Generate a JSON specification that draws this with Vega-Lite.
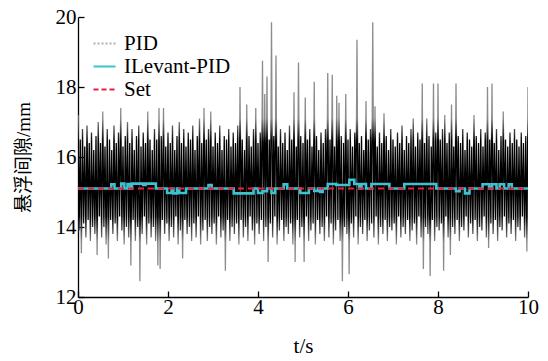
{
"$schema":"https://vega.github.io/schema/vega-lite/v6.json",
"width":450,"height":280,
"autosize":{"type":"none"},
"padding":{"left":78,"top":17,"right":20,"bottom":64},
"background":"white",
"config":{"view":{"stroke":null},"font":"Liberation Serif"},
"datasets":{
"pid":[
{"t":0,"y":17.2},{"t":0.025,"y":13.9},{"t":0.05,"y":16.5},{"t":0.075,"y":13.25},{"t":0.1,"y":16.8},{"t":0.125,"y":14.1},{"t":0.15,"y":16.3},{"t":0.175,"y":13.7},{"t":0.2,"y":16.9},{"t":0.225,"y":14.2},
{"t":0.25,"y":16.4},{"t":0.275,"y":13.6},{"t":0.3,"y":16.7},{"t":0.325,"y":14.0},{"t":0.35,"y":16.2},{"t":0.375,"y":13.8},{"t":0.4,"y":16.6},{"t":0.425,"y":13.2},{"t":0.45,"y":17.0},{"t":0.475,"y":14.3},
{"t":0.5,"y":16.4},{"t":0.525,"y":13.7},{"t":0.55,"y":17.3},{"t":0.575,"y":14.0},{"t":0.6,"y":16.3},{"t":0.625,"y":13.5},{"t":0.65,"y":16.8},{"t":0.675,"y":13.1},{"t":0.7,"y":16.5},{"t":0.725,"y":14.2},
{"t":0.75,"y":16.2},{"t":0.775,"y":13.8},{"t":0.8,"y":16.9},{"t":0.825,"y":14.1},{"t":0.85,"y":16.4},{"t":0.875,"y":13.6},{"t":0.9,"y":16.7},{"t":0.925,"y":14.3},{"t":0.95,"y":17.4},{"t":0.975,"y":13.9},
{"t":1.0,"y":16.3},{"t":1.025,"y":13.5},{"t":1.05,"y":16.6},{"t":1.075,"y":14.0},{"t":1.1,"y":17.0},{"t":1.125,"y":13.7},{"t":1.15,"y":16.4},{"t":1.175,"y":12.9},{"t":1.2,"y":16.8},{"t":1.225,"y":14.2},
{"t":1.25,"y":16.2},{"t":1.275,"y":13.6},{"t":1.3,"y":16.6},{"t":1.325,"y":14.0},{"t":1.35,"y":16.9},{"t":1.375,"y":12.45},{"t":1.4,"y":16.3},{"t":1.425,"y":13.8},{"t":1.45,"y":16.7},{"t":1.475,"y":14.3},
{"t":1.5,"y":16.4},{"t":1.525,"y":13.5},{"t":1.55,"y":17.3},{"t":1.575,"y":14.1},{"t":1.6,"y":16.5},{"t":1.625,"y":13.7},{"t":1.65,"y":16.2},{"t":1.675,"y":14.0},{"t":1.7,"y":16.8},{"t":1.725,"y":13.6},
{"t":1.75,"y":16.5},{"t":1.775,"y":12.9},{"t":1.8,"y":17.4},{"t":1.825,"y":12.8},{"t":1.85,"y":16.6},{"t":1.875,"y":14.2},{"t":1.9,"y":17.4},{"t":1.925,"y":13.8},{"t":1.95,"y":16.3},{"t":1.975,"y":14.1},
{"t":2.0,"y":16.7},{"t":2.025,"y":13.6},{"t":2.05,"y":16.4},{"t":2.075,"y":14.0},{"t":2.1,"y":16.9},{"t":2.125,"y":13.7},{"t":2.15,"y":16.2},{"t":2.175,"y":14.3},{"t":2.2,"y":16.6},{"t":2.225,"y":13.5},
{"t":2.25,"y":17.0},{"t":2.275,"y":13.9},{"t":2.3,"y":16.4},{"t":2.325,"y":13.1},{"t":2.35,"y":16.8},{"t":2.375,"y":14.2},{"t":2.4,"y":16.3},{"t":2.425,"y":13.8},{"t":2.45,"y":16.7},{"t":2.475,"y":14.0},
{"t":2.5,"y":16.5},{"t":2.525,"y":13.6},{"t":2.55,"y":16.9},{"t":2.575,"y":14.1},{"t":2.6,"y":16.2},{"t":2.625,"y":13.7},{"t":2.65,"y":16.6},{"t":2.675,"y":14.3},{"t":2.7,"y":17.1},{"t":2.725,"y":13.5},
{"t":2.75,"y":16.4},{"t":2.775,"y":13.9},{"t":2.8,"y":17.4},{"t":2.825,"y":14.2},{"t":2.85,"y":16.5},{"t":2.875,"y":13.6},{"t":2.9,"y":16.8},{"t":2.925,"y":14.0},{"t":2.95,"y":17.3},{"t":2.975,"y":13.8},
{"t":3.0,"y":16.3},{"t":3.025,"y":14.1},{"t":3.05,"y":16.7},{"t":3.075,"y":13.5},{"t":3.1,"y":16.4},{"t":3.125,"y":14.3},{"t":3.15,"y":16.9},{"t":3.175,"y":13.7},{"t":3.2,"y":16.2},{"t":3.225,"y":13.9},
{"t":3.25,"y":16.6},{"t":3.275,"y":12.75},{"t":3.3,"y":16.5},{"t":3.325,"y":14.2},{"t":3.35,"y":16.8},{"t":3.375,"y":13.6},{"t":3.4,"y":16.3},{"t":3.425,"y":14.0},{"t":3.45,"y":16.7},{"t":3.475,"y":13.8},
{"t":3.5,"y":16.4},{"t":3.525,"y":14.1},{"t":3.55,"y":16.9},{"t":3.575,"y":13.5},{"t":3.6,"y":18.0},{"t":3.625,"y":14.2},{"t":3.65,"y":16.5},{"t":3.675,"y":13.7},{"t":3.7,"y":16.2},{"t":3.725,"y":14.0},
{"t":3.75,"y":17.5},{"t":3.775,"y":13.6},{"t":3.8,"y":16.6},{"t":3.825,"y":14.3},{"t":3.85,"y":16.3},{"t":3.875,"y":13.9},{"t":3.9,"y":16.8},{"t":3.925,"y":13.5},{"t":3.95,"y":17.4},{"t":3.975,"y":14.1},
{"t":4.0,"y":16.4},{"t":4.025,"y":13.8},{"t":4.05,"y":16.7},{"t":4.075,"y":14.2},{"t":4.1,"y":18.75},{"t":4.125,"y":13.6},{"t":4.15,"y":17.8},{"t":4.175,"y":14.0},{"t":4.2,"y":18.3},{"t":4.225,"y":13.0},
{"t":4.25,"y":16.5},{"t":4.275,"y":14.1},{"t":4.3,"y":19.85},{"t":4.325,"y":13.7},{"t":4.35,"y":16.6},{"t":4.375,"y":14.3},{"t":4.4,"y":18.9},{"t":4.425,"y":13.5},{"t":4.45,"y":16.3},{"t":4.475,"y":13.9},
{"t":4.5,"y":16.8},{"t":4.525,"y":14.2},{"t":4.55,"y":16.4},{"t":4.575,"y":13.6},{"t":4.6,"y":16.7},{"t":4.625,"y":14.0},{"t":4.65,"y":16.2},{"t":4.675,"y":13.8},{"t":4.7,"y":16.9},{"t":4.725,"y":14.1},
{"t":4.75,"y":16.5},{"t":4.775,"y":13.5},{"t":4.8,"y":17.85},{"t":4.825,"y":13.0},{"t":4.85,"y":16.3},{"t":4.875,"y":14.2},{"t":4.9,"y":18.7},{"t":4.925,"y":13.7},{"t":4.95,"y":16.6},{"t":4.975,"y":14.0},
{"t":5.0,"y":16.4},{"t":5.025,"y":13.0},{"t":5.05,"y":17.7},{"t":5.075,"y":14.3},{"t":5.1,"y":16.5},{"t":5.125,"y":13.6},{"t":5.15,"y":16.8},{"t":5.175,"y":13.9},{"t":5.2,"y":16.3},{"t":5.225,"y":14.1},
{"t":5.25,"y":18.15},{"t":5.275,"y":13.5},{"t":5.3,"y":16.6},{"t":5.325,"y":14.2},{"t":5.35,"y":16.2},{"t":5.375,"y":13.8},{"t":5.4,"y":16.7},{"t":5.425,"y":14.0},{"t":5.45,"y":16.4},{"t":5.475,"y":13.6},
{"t":5.5,"y":16.8},{"t":5.525,"y":14.3},{"t":5.55,"y":18.4},{"t":5.575,"y":13.7},{"t":5.6,"y":16.5},{"t":5.625,"y":14.1},{"t":5.65,"y":18.35},{"t":5.675,"y":13.5},{"t":5.7,"y":16.3},{"t":5.725,"y":13.9},
{"t":5.75,"y":17.75},{"t":5.775,"y":14.2},{"t":5.8,"y":17.55},{"t":5.825,"y":13.6},{"t":5.85,"y":16.6},{"t":5.875,"y":12.45},{"t":5.9,"y":16.4},{"t":5.925,"y":14.0},{"t":5.95,"y":17.8},{"t":5.975,"y":13.8},
{"t":6.0,"y":16.5},{"t":6.025,"y":12.65},{"t":6.05,"y":16.8},{"t":6.075,"y":14.1},{"t":6.1,"y":16.3},{"t":6.125,"y":13.7},{"t":6.15,"y":16.7},{"t":6.175,"y":14.3},{"t":6.2,"y":19.35},{"t":6.225,"y":13.5},
{"t":6.25,"y":16.4},{"t":6.275,"y":14.0},{"t":6.3,"y":16.6},{"t":6.325,"y":13.8},{"t":6.35,"y":16.2},{"t":6.375,"y":14.2},{"t":6.4,"y":17.6},{"t":6.425,"y":13.6},{"t":6.45,"y":16.5},{"t":6.475,"y":13.9},
{"t":6.5,"y":16.8},{"t":6.525,"y":14.1},{"t":6.55,"y":19.85},{"t":6.575,"y":13.7},{"t":6.6,"y":17.45},{"t":6.625,"y":14.3},{"t":6.65,"y":16.3},{"t":6.675,"y":13.5},{"t":6.7,"y":16.7},{"t":6.725,"y":14.0},
{"t":6.75,"y":16.4},{"t":6.775,"y":13.8},{"t":6.8,"y":17.25},{"t":6.825,"y":14.2},{"t":6.85,"y":16.6},{"t":6.875,"y":13.6},{"t":6.9,"y":16.2},{"t":6.925,"y":14.0},{"t":6.95,"y":16.8},{"t":6.975,"y":13.9},
{"t":7.0,"y":16.5},{"t":7.025,"y":14.1},{"t":7.05,"y":16.3},{"t":7.075,"y":13.5},{"t":7.1,"y":16.7},{"t":7.125,"y":14.3},{"t":7.15,"y":16.4},{"t":7.175,"y":13.7},{"t":7.2,"y":16.9},{"t":7.225,"y":14.0},
{"t":7.25,"y":16.2},{"t":7.275,"y":13.8},{"t":7.3,"y":16.6},{"t":7.325,"y":14.2},{"t":7.35,"y":16.4},{"t":7.375,"y":13.6},{"t":7.4,"y":16.8},{"t":7.425,"y":13.9},{"t":7.45,"y":17.1},{"t":7.475,"y":14.1},
{"t":7.5,"y":16.3},{"t":7.525,"y":13.5},{"t":7.55,"y":16.7},{"t":7.575,"y":14.3},{"t":7.6,"y":16.5},{"t":7.625,"y":13.7},{"t":7.65,"y":18.1},{"t":7.675,"y":12.8},{"t":7.7,"y":16.4},{"t":7.725,"y":14.0},
{"t":7.75,"y":17.1},{"t":7.775,"y":13.8},{"t":7.8,"y":16.6},{"t":7.825,"y":12.6},{"t":7.85,"y":16.3},{"t":7.875,"y":14.2},{"t":7.9,"y":18.1},{"t":7.925,"y":13.6},{"t":7.95,"y":16.7},{"t":7.975,"y":14.0},
{"t":8.0,"y":18.1},{"t":8.025,"y":13.9},{"t":8.05,"y":16.5},{"t":8.075,"y":14.1},{"t":8.1,"y":16.8},{"t":8.125,"y":12.75},{"t":8.15,"y":17.2},{"t":8.175,"y":14.3},{"t":8.2,"y":16.4},{"t":8.225,"y":13.7},
{"t":8.25,"y":16.7},{"t":8.275,"y":13.2},{"t":8.3,"y":17.5},{"t":8.325,"y":14.0},{"t":8.35,"y":16.3},{"t":8.375,"y":13.8},{"t":8.4,"y":18.1},{"t":8.425,"y":14.2},{"t":8.45,"y":16.6},{"t":8.475,"y":13.6},
{"t":8.5,"y":16.4},{"t":8.525,"y":14.0},{"t":8.55,"y":16.8},{"t":8.575,"y":13.9},{"t":8.6,"y":16.2},{"t":8.625,"y":14.3},{"t":8.65,"y":16.7},{"t":8.675,"y":13.7},{"t":8.7,"y":16.5},{"t":8.725,"y":14.1},
{"t":8.75,"y":16.3},{"t":8.775,"y":13.8},{"t":8.8,"y":17.2},{"t":8.825,"y":14.2},{"t":8.85,"y":16.6},{"t":8.875,"y":13.6},{"t":8.9,"y":16.4},{"t":8.925,"y":14.0},{"t":8.95,"y":16.8},{"t":8.975,"y":13.9},
{"t":9.0,"y":16.3},{"t":9.025,"y":14.3},{"t":9.05,"y":16.7},{"t":9.075,"y":13.7},{"t":9.1,"y":18.0},{"t":9.125,"y":13.4},{"t":9.15,"y":16.5},{"t":9.175,"y":14.1},{"t":9.2,"y":18.1},{"t":9.225,"y":13.8},
{"t":9.25,"y":16.4},{"t":9.275,"y":14.2},{"t":9.3,"y":16.8},{"t":9.325,"y":13.6},{"t":9.35,"y":16.2},{"t":9.375,"y":14.0},{"t":9.4,"y":16.6},{"t":9.425,"y":13.9},{"t":9.45,"y":17.3},{"t":9.475,"y":14.3},
{"t":9.5,"y":16.5},{"t":9.525,"y":13.7},{"t":9.55,"y":16.3},{"t":9.575,"y":14.1},{"t":9.6,"y":16.7},{"t":9.625,"y":13.8},{"t":9.65,"y":16.4},{"t":9.675,"y":14.2},{"t":9.7,"y":16.8},{"t":9.725,"y":13.6},
{"t":9.75,"y":16.5},{"t":9.775,"y":14.0},{"t":9.8,"y":16.3},{"t":9.825,"y":13.9},{"t":9.85,"y":16.7},{"t":9.875,"y":14.3},{"t":9.9,"y":16.4},{"t":9.925,"y":13.7},{"t":9.95,"y":16.6},{"t":9.975,"y":13.3},
{"t":10,"y":18.0}
],
"ilv":[
{"t":0,"y":15.1},{"t":0.74,"y":15.22},{"t":0.81,"y":15.1},{"t":0.96,"y":15.24},{"t":1.03,"y":15.1},{"t":1.1,"y":15.23},{"t":1.16,"y":15.1},{"t":1.2,"y":15.24},{"t":1.45,"y":15.2},{"t":1.5,"y":15.24},
{"t":1.73,"y":15.1},{"t":1.98,"y":14.97},{"t":2.08,"y":15.1},{"t":2.12,"y":14.96},{"t":2.2,"y":15.1},{"t":2.25,"y":14.97},{"t":2.4,"y":15.1},{"t":2.9,"y":15.2},{"t":2.97,"y":15.1},{"t":3.46,"y":14.96},
{"t":3.9,"y":15.1},{"t":4.0,"y":14.97},{"t":4.1,"y":15.02},{"t":4.2,"y":15.1},{"t":4.3,"y":14.97},{"t":4.38,"y":15.1},{"t":4.57,"y":15.22},{"t":4.65,"y":15.1},{"t":4.94,"y":14.97},{"t":5.13,"y":15.1},
{"t":5.25,"y":15.03},{"t":5.33,"y":15.1},{"t":5.38,"y":15.0},{"t":5.44,"y":15.1},{"t":5.55,"y":15.23},{"t":5.74,"y":15.2},{"t":6.03,"y":15.35},{"t":6.14,"y":15.23},{"t":6.25,"y":15.1},{"t":6.3,"y":15.23},
{"t":6.4,"y":15.1},{"t":6.52,"y":15.23},{"t":6.92,"y":15.1},{"t":7.25,"y":15.23},{"t":7.96,"y":15.1},{"t":8.4,"y":15.02},{"t":8.48,"y":15.1},{"t":8.6,"y":14.96},{"t":8.7,"y":15.1},{"t":8.99,"y":15.22},
{"t":9.14,"y":15.1},{"t":9.2,"y":15.22},{"t":9.3,"y":15.1},{"t":9.37,"y":15.22},{"t":9.47,"y":15.1},{"t":9.57,"y":15.22},{"t":9.64,"y":15.1},{"t":10,"y":15.1}
],
"set":[{"t":0,"y":15.1},{"t":10,"y":15.1}]
},
"encoding":{
"x":{"field":"t","type":"quantitative","scale":{"domain":[0,10],"nice":false,"zero":false},
 "axis":{"values":[0,2,4,6,8,10],"title":"t/s","grid":false,"tickSize":-6,"tickColor":"#000","tickWidth":1.3,"domainColor":"#000","domainWidth":1.3,
  "labelFont":"Liberation Serif","labelFontSize":21,"labelColor":"#000","labelPadding":5,"labelFlush":false,
  "titleFont":"Liberation Serif","titleFontSize":21,"titleFontWeight":"normal","titleColor":"#000","titlePadding":18}},
"y":{"field":"y","type":"quantitative","scale":{"domain":[12,20],"nice":false,"zero":false},
 "axis":{"values":[12,14,16,18,20],"title":"悬浮间隙/mm","grid":false,"tickSize":-6,"tickColor":"#000","tickWidth":1.3,"domainColor":"#000","domainWidth":1.3,
  "labelFont":"Liberation Serif","labelFontSize":21,"labelColor":"#000","labelPadding":8,"labelFlush":false,
  "titleFont":"Liberation Serif, Noto Sans CJK SC","titleFontSize":19,"titleFontWeight":"normal","titleColor":"#000","titlePadding":22}}
},
"layer":[
{"data":{"name":"pid"},"mark":{"type":"line","strokeWidth":1.3,"clip":true,
 "color":{"gradient":"linear","x1":0,"y1":0,"x2":0,"y2":1,"stops":[{"offset":0,"color":"#8c8c8c"},{"offset":0.37,"color":"#8c8c8c"},{"offset":0.46,"color":"#000000"},{"offset":0.75,"color":"#000000"},{"offset":0.85,"color":"#8c8c8c"},{"offset":1,"color":"#8c8c8c"}]}},"encoding":{}},
{"data":{"name":"ilv"},"mark":{"type":"line","interpolate":"step-after","strokeWidth":2.6},
 "encoding":{"color":{"datum":"ILevant-PID","scale":{"domain":["PID","ILevant-PID","Set"],"range":["#a9afbb","#3cc3cf","#e5203f"]},
  "legend":{"title":null,"orient":"none","legendX":14,"legendY":14,"symbolType":"stroke","symbolSize":484,"symbolStrokeWidth":2.2,
   "labelFont":"Liberation Serif","labelFontSize":21,"labelColor":"#000","labelOffset":7,"rowPadding":0,"padding":0,
   "encode":{"symbols":{"update":{"strokeDash":[{"test":"datum.value==='PID'","value":[2,2]},{"test":"datum.value==='Set'","value":[5,3]},{"value":[1,0]}]}}}}}}},
{"data":{"name":"set"},"mark":{"type":"line","strokeWidth":2,"strokeDash":[6,4]},"encoding":{"color":{"datum":"Set"}}}
]
}
